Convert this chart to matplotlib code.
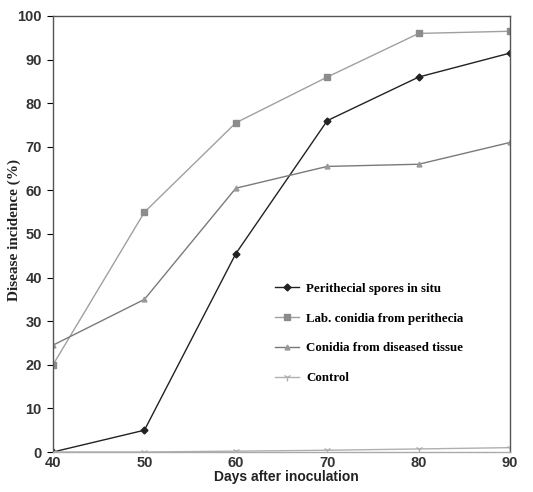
import numpy as np
import matplotlib.pyplot as plt

days = [40, 50, 60, 70, 80, 90]
perithecial = [0, 5, 45.5, 76, 86, 91.5]
lab_conidia = [20, 55, 75.5, 86, 96, 96.5]
diseased_tissue = [24.5, 35, 60.5, 65.5, 66, 71]
control = [0, 0, 0.2, 0.4, 0.7, 1]

fig = plt.figure(figsize=(5.33, 4.92), dpi=100)
ax = fig.add_axes([0.0994, 0.0813, 0.8577, 0.8862])

ax.plot(days, perithecial, color='#222222', lw=1.0, marker='D', ms=3.5,
        label='Perithecial spores in situ')
ax.plot(days, lab_conidia, color='#a0a0a0', lw=1.0, marker='s', ms=4.5,
        markerfacecolor='#8c8c8c', markeredgecolor='#8c8c8c',
        label='Lab. conidia from perithecia')
ax.plot(days, diseased_tissue, color='#7a7a7a', lw=1.0, marker='^', ms=3.5,
        markerfacecolor='#999999', markeredgecolor='#999999',
        label='Conidia from diseased tissue')
ax.plot(days, control, color='#b0b0b0', lw=1.0, marker='1', ms=6,
        label='Control')

ax.set_xlim(40, 90)
ax.set_ylim(0, 100)
ax.set_xticks(days)
ax.set_yticks(np.arange(0, 101, 10))
ax.tick_params(axis='x', length=0, pad=3)
ax.tick_params(axis='y', length=4, direction='out', pad=4)
for lbl in ax.get_xticklabels() + ax.get_yticklabels():
    lbl.set_fontfamily('Liberation Sans')
    lbl.set_fontweight('bold')
    lbl.set_fontsize(10.5)
    lbl.set_color('#333333')

for s in ax.spines.values():
    s.set_color('#555555')
    s.set_linewidth(1.0)
ax.spines['bottom'].set_color('#aaaaaa')

ax.set_xlabel('Days after inoculation', fontfamily='Liberation Sans',
              fontweight='bold', fontsize=10, color='#222222')
ax.xaxis.set_label_coords(0.51, -0.042)
ax.set_ylabel('Disease incidence (%)', fontfamily='Liberation Serif',
              fontweight='bold', fontsize=11, color='#222222')
ax.yaxis.set_label_coords(-0.07, 0.509)

leg = ax.legend(loc='upper left', bbox_to_anchor=(0.46, 0.415), frameon=False,
                prop={'family': 'Liberation Serif', 'weight': 'bold', 'size': 9.3},
                handlelength=1.9, labelspacing=1.38, handletextpad=0.5)

plt.savefig('out.png', dpi=100)
